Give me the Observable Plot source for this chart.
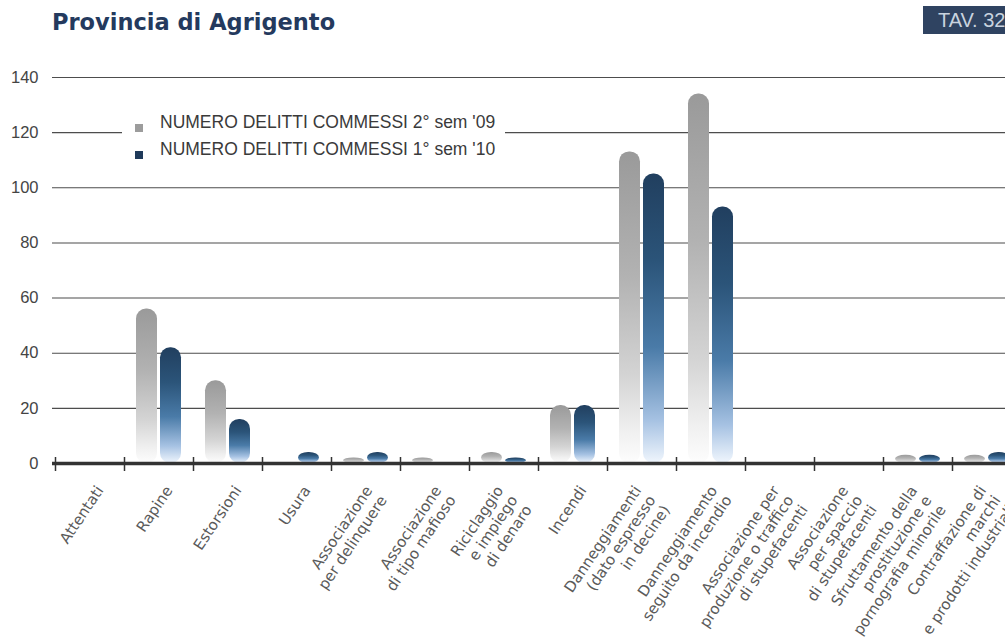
<!DOCTYPE html>
<html><head><meta charset="utf-8">
<script src="https://cdn.jsdelivr.net/npm/d3@7"></script>
<script src="https://cdn.jsdelivr.net/npm/@observablehq/plot@0.6"></script>
<style>
html,body{margin:0;padding:0;background:#fff;overflow:hidden;width:1005px;height:637px;}
#wrap{position:relative;width:1005px;height:637px;overflow:hidden;}
#chart{position:absolute;left:0;top:0;}
#title{position:absolute;left:52px;top:9px;font-family:"DejaVu Sans",sans-serif;font-weight:bold;font-size:22.5px;color:#243a5e;line-height:26px;white-space:nowrap;}
#tav{position:absolute;left:923px;top:6px;width:100px;height:28px;background:#2f4361;color:#c9d3df;font-family:"Liberation Sans",Arial,sans-serif;font-size:20px;line-height:29px;padding-left:15px;box-sizing:border-box;white-space:nowrap;}
#legend{position:absolute;left:122px;top:110px;width:383px;height:52px;background:#fff;font-family:"Liberation Sans",Arial,sans-serif;font-size:17.5px;color:#3a3a3a;}
.row{position:absolute;left:38px;white-space:nowrap;line-height:20px;}
.sw{position:absolute;left:13px;width:8px;height:8px;}
</style></head>
<body>
<div id="wrap">
  <div id="chart"></div>
  <div id="title">Provincia di Agrigento</div>
  <div id="tav">TAV. 32</div>
  <div id="legend"></div>
</div>
<script>
const categories = [
  "Attentati",
  "Rapine",
  "Estorsioni",
  "Usura",
  "Associazione\nper delinquere",
  "Associazione\ndi tipo mafioso",
  "Riciclaggio\ne impiego\ndi denaro",
  "Incendi",
  "Danneggiamenti\n(dato espresso\nin decine)",
  "Danneggiamento\nseguito da incendio",
  "Associazione per\nproduzione o traffico\ndi stupefacenti",
  "Associazione\nper spaccio\ndi stupefacenti",
  "Sfruttamento della\nprostituzione e\npornografia minorile",
  "Contraffazione di\nmarchi\ne prodotti industriali"
];
const seriesNames = ["NUMERO DELITTI COMMESSI 2° sem '09", "NUMERO DELITTI COMMESSI 1° sem '10"];
const sem2_09 = [0, 56, 30, 0, 2, 2, 4, 21, 113, 134, 0, 0, 3, 3];
const sem1_10 = [0, 42, 16, 4, 4, 0, 2, 21, 105, 93, 0, 0, 3, 4];
const yTicks = [0, 20, 40, 60, 80, 100, 120, 140];

const seriesColors = ["#9c9c9c", "#1f3a5a"];
const gradIds = ["gGray", "gBlue"];

const rows = [];
categories.forEach((c, i) => {
  rows.push({cat: c, s: 0, v: sem2_09[i]});
  rows.push({cat: c, s: 1, v: sem1_10[i]});
});

const xRange = [55, 1021];
const bw = (xRange[1] - xRange[0]) / categories.length;
const nLines = c => c.split("\n").length;

const labelMarks = [1, 2, 3].map(n =>
  Plot.text(categories.filter(c => nLines(c) === n), {
    x: d => d, frameAnchor: "bottom", text: d => d,
    rotate: -56, textAnchor: "end", lineAnchor: "top",
    dx: 4 - 7.15 * (n - 1), dy: 20,
    fontSize: 15, fontFamily: "'DejaVu Sans', sans-serif", fill: "#5a5a5a", lineHeight: 1.15
  })
);

const plot = Plot.plot({
  width: 1005, height: 637,
  marginLeft: 52, marginRight: 0, marginTop: 77, marginBottom: 174,
  style: {fontFamily: "'Liberation Sans', Arial, sans-serif", background: "transparent", overflow: "hidden"},
  x: {type: "band", domain: categories, range: xRange, padding: 0, axis: null},
  y: {domain: [0, 140], axis: null},
  marks: [
    Plot.ruleY(yTicks.filter(d => d > 0), {stroke: "#4d4d4d", strokeWidth: 1.1}),
    Plot.barY(rows.filter(d => d.s === 0), {x: "cat", y: "v", fill: "url(#gGray)", insetLeft: 24, insetRight: 24, dx: -12, rx: 10}),
    Plot.barY(rows.filter(d => d.s === 1), {x: "cat", y: "v", fill: "url(#gBlue)", insetLeft: 24, insetRight: 24, dx: 12, rx: 10}),
    Plot.ruleY([0], {stroke: "#333", strokeWidth: 3.5}),
    Plot.ruleX(categories, {x: d => d, y1: () => 0, y2: () => 0, dx: -bw / 2, insetTop: 8, insetBottom: 6, stroke: "#333", strokeWidth: 1.5}),
    Plot.axisY(yTicks, {tickSize: 0, tickPadding: 14, fontSize: 16.5, color: "#444", label: null}),
    ...labelMarks
  ]
});

const svg = d3.select(plot);
const defs = svg.insert("defs", ":first-child");
const gradStops = {
  gGray: [[0, "#9a9a9a"], [0.4, "#b2b2b2"], [0.72, "#d4d4d4"], [0.9, "#f0f0f0"], [1, "#fdfdfd"]],
  gBlue: [[0, "#213f5f"], [0.3, "#2b5479"], [0.6, "#4a7ba8"], [0.85, "#a5c1e2"], [1, "#f0f6fd"]]
};
for (const id of gradIds) {
  const g = defs.append("linearGradient").attr("id", id).attr("x1", 0).attr("y1", 0).attr("x2", 0).attr("y2", 1);
  for (const [o, c] of gradStops[id]) g.append("stop").attr("offset", o).attr("stop-color", c);
}
document.getElementById("chart").appendChild(plot);

const legend = document.getElementById("legend");
seriesNames.forEach((name, i) => {
  const row = document.createElement("div");
  row.className = "row";
  row.style.top = (2 + i * 27) + "px";
  row.textContent = name;
  legend.appendChild(row);
  const sw = document.createElement("div");
  sw.className = "sw";
  sw.style.top = (14 + i * 27) + "px";
  sw.style.background = seriesColors[i];
  legend.appendChild(sw);
});
</script>
</body></html>
